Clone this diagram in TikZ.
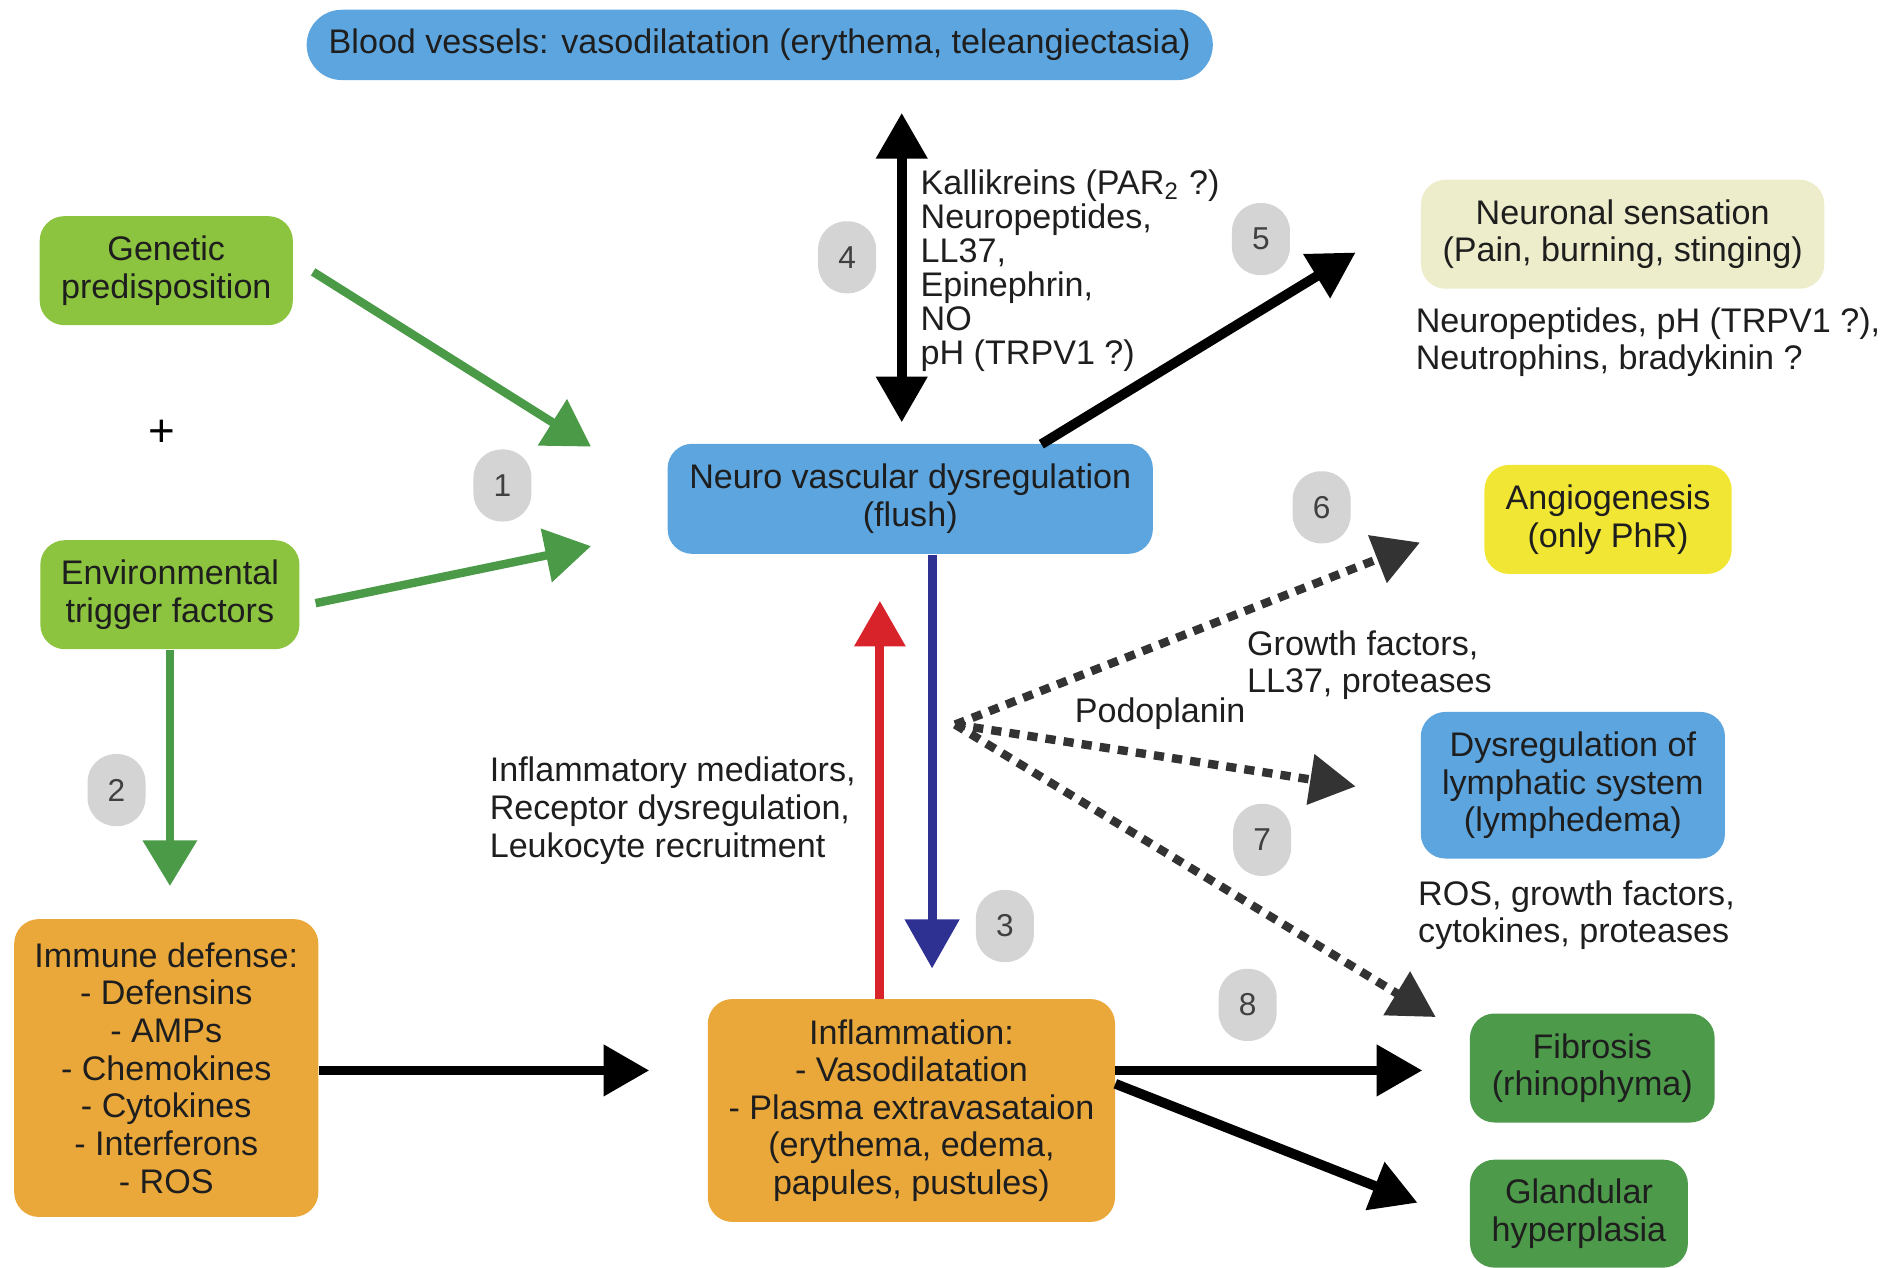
\documentclass[tikz,border=0pt]{standalone}
\usepackage{fontspec}
\setmainfont{Liberation Sans}
\usetikzlibrary{arrows.meta}

\definecolor{boxblue}{HTML}{5DA5DE}
\definecolor{lightgreen}{HTML}{8CC43F}
\definecolor{darkgreen}{HTML}{4C9A4A}
\definecolor{boxorange}{HTML}{EAA83B}
\definecolor{boxyellow}{HTML}{F1E633}
\definecolor{paleyellow}{HTML}{EDEDCB}
\definecolor{badgegray}{HTML}{D4D4D4}
\definecolor{arrowgreen}{HTML}{4B9A48}
\definecolor{arrowred}{HTML}{D8232A}
\definecolor{arrowblue}{HTML}{2E3192}
\definecolor{dotgray}{HTML}{333333}
\definecolor{inktext}{HTML}{1E1E1E}

\begin{document}
\begin{tikzpicture}[x=0.012136cm, y=-0.012136cm,
  txt/.style={font=\fontsize{9.7}{10.7}\selectfont},
  box/.style={txt, rounded corners=7pt, inner sep=0pt, align=center, text=inktext},
  lbl/.style={txt, align=left, anchor=west, inner sep=0pt, text=inktext},
  badge/.style={fill=badgegray, rounded corners=8pt, minimum width=16.5pt,
    minimum height=20.5pt, inner sep=0pt, text=black!75,
    font=\fontsize{9}{10}\selectfont},
  garrow/.style={arrowgreen, line width=2.4pt, -{Triangle[length=13pt,width=15pt]}},
  karrow/.style={black, line width=2.8pt, -{Triangle[length=13pt,width=14pt]}},
  darrow/.style={dotgray, line width=2.4pt, dash pattern=on 2.9pt off 2.3pt,
    -{Triangle[length=13pt,width=14pt]}}
]
\useasboundingbox (0,0) rectangle (1568,1044);

% ---------- boxes ----------
\node[box, fill=boxblue, rounded corners=10pt, minimum width=257.7pt, minimum height=20pt]
  (blood) at (626,37) {Blood vessels: vasodilatation (erythema, teleangiectasia)};
\node[box, fill=lightgreen, minimum width=72pt, minimum height=31pt]
  (gen) at (137,223) {Genetic\\predisposition};
\node[box, fill=lightgreen, minimum width=73.7pt, minimum height=31pt]
  (env) at (140,490) {Environmental\\trigger factors};
\node[box, fill=boxblue, minimum width=138pt, minimum height=31.3pt]
  (neuro) at (750,411) {Neuro vascular dysregulation\\(flush)};
\node[box, fill=boxorange, minimum width=86.5pt, minimum height=84.7pt]
  (imm) at (137,880) {Immune defense:\\- Defensins\\- AMPs\\- Chemokines\\- Cytokines\\- Interferons\\- ROS};
\node[box, fill=boxorange, minimum width=115.8pt, minimum height=63.4pt]
  (infl) at (751,915) {Inflammation:\\- Vasodilatation\\- Plasma extravasataion\\(erythema, edema,\\papules, pustules)};
\node[box, fill=paleyellow, minimum width=114.7pt, minimum height=31pt]
  (neur) at (1337,193) {Neuronal sensation\\(Pain, burning, stinging)};
\node[box, fill=boxyellow, minimum width=70.3pt, minimum height=31pt]
  (angio) at (1325,428) {Angiogenesis\\(only PhR)};
\node[box, fill=boxblue, minimum width=86.5pt, minimum height=41.7pt]
  (lymph) at (1296,647) {Dysregulation of\\lymphatic system\\(lymphedema)};
\node[box, fill=darkgreen, minimum width=69.6pt, minimum height=31pt]
  (fib) at (1312,880) {Fibrosis\\(rhinophyma)};
\node[box, fill=darkgreen, minimum width=62pt, minimum height=30.7pt]
  (gland) at (1301,1000) {Glandular\\hyperplasia};

\node[txt, inner sep=0pt] (plus) at (133,357) {\fontsize{13}{13}\selectfont +};

% ---------- badges ----------
\node[badge] (b1) at (414,400) {1};
\node[badge] (b2) at (96,651) {2};
\node[badge] (b3) at (828,763) {3};
\node[badge] (b4) at (698,212) {4};
\node[badge] (b5) at (1039,197) {5};
\node[badge] (b6) at (1089,418) {6};
\node[badge] (b7) at (1040,692) {7};
\node[badge] (b8) at (1028,828) {8};

% ---------- labels ----------
\node[lbl, font=\fontsize{9.7}{9.7}\selectfont] (kal) at (758,223)
  {Kallikreins (PAR\textsubscript{2} ?)\\Neuropeptides,\\LL37,\\Epinephrin,\\NO\\pH (TRPV1 ?)};
\node[lbl] (nsl) at (1166,282) {Neuropeptides, pH (TRPV1 ?),\\Neutrophins, bradykinin ?};
\node[lbl] (iml) at (403,668) {Inflammatory mediators,\\Receptor dysregulation,\\Leukocyte recruitment};
\node[lbl] (gfl) at (1027,548) {Growth factors,\\LL37, proteases};
\node[lbl] (pod) at (885,588) {Podoplanin};
\node[lbl] (rosl) at (1168,754) {ROS, growth factors,\\cytokines, proteases};

% ---------- connector end points ----------
\coordinate (genS) at (258,224);
\coordinate (genT) at (487,368);
\coordinate (envS) at (260,497);
\coordinate (envT) at (487,450);
\coordinate (envD) at (140,730);
\coordinate (immT) at (535,882);
\coordinate (dblTop) at (743,93);
\coordinate (dblBot) at (743,348);
\coordinate (n5S) at (858,366);
\coordinate (n5T) at (1117,208);
\coordinate (redS) at (725,823);
\coordinate (redT) at (725,495);
\coordinate (bluS) at (768,457);
\coordinate (bluT) at (768,798);
\coordinate (fork) at (787,597);
\coordinate (angT) at (1170,447);
\coordinate (lymT) at (1117,648);
\coordinate (fibT) at (1183,838);
\coordinate (infF) at (919,882);
\coordinate (fibA) at (1172,882);
\coordinate (infG) at (919,893);
\coordinate (glaA) at (1168,991);

% ---------- connectors ----------
\draw[garrow] (genS) -- (genT);
\draw[garrow] (envS) -- (envT);
\draw[garrow] (env.south) -- (envD);

\draw[karrow] (imm.east |- immT) -- (immT);
\draw[black, line width=2.8pt, {Triangle[length=13pt,width=14pt]}-{Triangle[length=13pt,width=14pt]}]
  (dblTop) -- (dblBot);
\draw[karrow] (n5S) -- (n5T);
\draw[karrow] (infF) -- (fibA);
\draw[karrow] (infG) -- (glaA);

\draw[arrowred, line width=2.6pt, -{Triangle[length=13pt,width=14pt]}] (redS) -- (redT);
\draw[arrowblue, line width=2.6pt, -{Triangle[length=14pt,width=15pt]}] (bluS) -- (bluT);

\draw[darrow] (fork) -- (angT);
\draw[darrow] (fork) -- (lymT);
\draw[darrow] (fork) -- (fibT);
\end{tikzpicture}
\end{document}
